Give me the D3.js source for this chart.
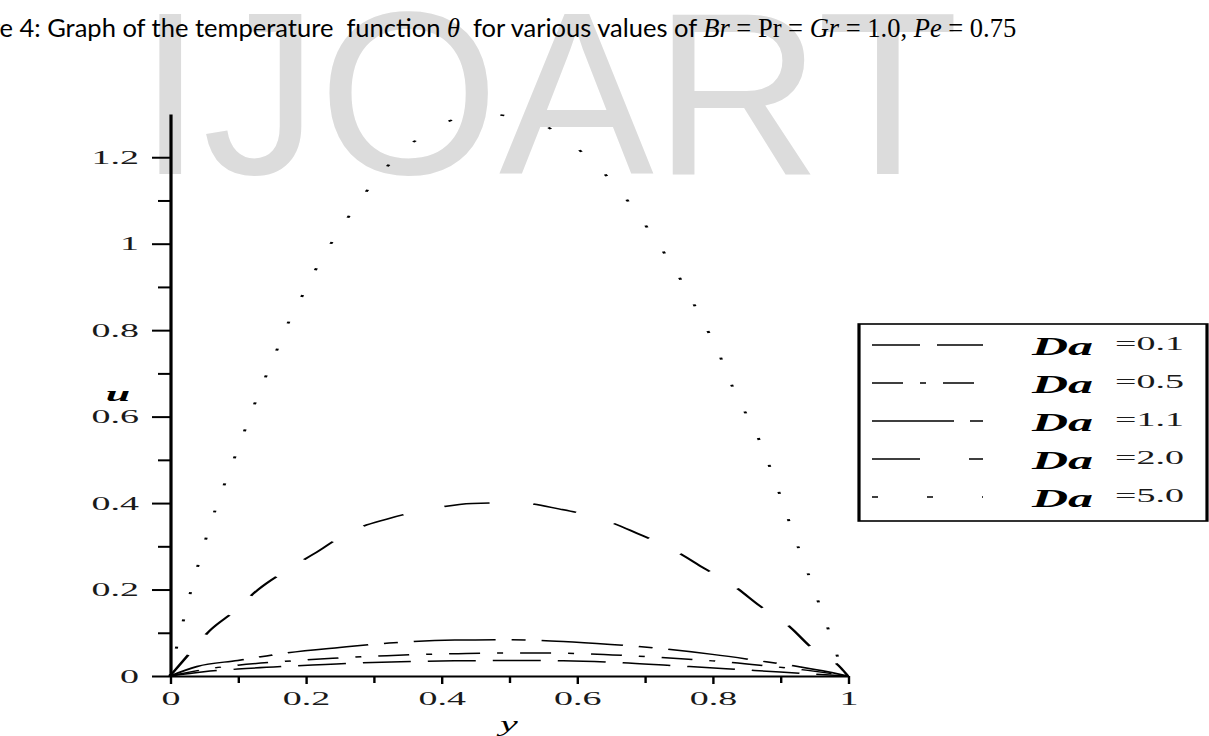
<!DOCTYPE html>
<html>
<head>
<meta charset="utf-8">
<script src="https://cdn.jsdelivr.net/npm/d3@7/dist/d3.min.js"></script>
<style>
body { margin: 0; background: #fff; }
svg { display: block; }
</style>
</head>
<body>
<svg id="chart" width="1209" height="736"></svg>
<script>
// values: position y (0..1) and velocity u
var da01_y = [0, 0.05, 0.1, 0.18, 0.26, 0.34, 0.42, 0.5, 0.58, 0.66, 0.74, 0.82, 0.9, 1]
var da01_u = [0, 0.010, 0.016, 0.023, 0.029, 0.033, 0.035, 0.036, 0.035, 0.031, 0.024, 0.017, 0.009, 0]

var da05_y = [0, 0.05, 0.1, 0.17, 0.24, 0.32, 0.4, 0.48, 0.56, 0.64, 0.72, 0.8, 0.87, 0.93, 1]
var da05_u = [0, 0.015, 0.025, 0.034, 0.041, 0.047, 0.051, 0.053, 0.053, 0.050, 0.043, 0.035, 0.025, 0.015, 0]

var da11_y = [0, 0.04, 0.1, 0.17, 0.25, 0.33, 0.42, 0.5, 0.58, 0.65, 0.72, 0.8, 0.87, 0.93, 0.97, 1]
var da11_u = [0, 0.022, 0.036, 0.053, 0.066, 0.077, 0.083, 0.084, 0.080, 0.073, 0.064, 0.050, 0.035, 0.021, 0.010, 0]

var da20_y = [0, 0.027, 0.06, 0.095, 0.13, 0.17, 0.22, 0.26, 0.32, 0.38, 0.446, 0.512, 0.575, 0.637, 0.689, 0.74, 0.789, 0.832, 0.871, 0.912, 0.946, 0.99, 1]
var da20_u = [0, 0.049, 0.107, 0.15, 0.2, 0.243, 0.29, 0.33, 0.363, 0.385, 0.399, 0.401, 0.386, 0.363, 0.33, 0.294, 0.248, 0.208, 0.161, 0.117, 0.066, 0.018, 0]

var da50_y = [0, 0.010, 0.020, 0.030, 0.041, 0.053, 0.066, 0.080, 0.095, 0.110, 0.125, 0.140, 0.156, 0.173, 0.192, 0.212, 0.235, 0.259, 0.285, 0.316, 0.353, 0.397, 0.467, 0.544, 0.593, 0.634, 0.665, 0.694, 0.720, 0.744, 0.766, 0.786, 0.806, 0.822, 0.839, 0.861, 0.877, 0.892, 0.906, 0.920, 0.934, 0.949, 0.963, 0.977, 0.990, 1]
var da50_u = [0, 0.068, 0.130, 0.192, 0.254, 0.318, 0.381, 0.442, 0.504, 0.567, 0.630, 0.688, 0.748, 0.812, 0.870, 0.932, 0.994, 1.052, 1.111, 1.171, 1.227, 1.274, 1.299, 1.279, 1.230, 1.173, 1.119, 1.059, 1.000, 0.941, 0.881, 0.819, 0.760, 0.697, 0.637, 0.574, 0.515, 0.452, 0.390, 0.326, 0.267, 0.204, 0.142, 0.082, 0.022, 0]

var daLabels = ["=0.1", "=0.5", "=1.1", "=2.0", "=5.0"]

var xTicks = [0, 0.2, 0.4, 0.6, 0.8, 1]
var xTickLabels = ["0", "0.2", "0.4", "0.6", "0.8", "1"]
var xMinor = [0.1, 0.3, 0.5, 0.7, 0.9]
var yTicks = [0, 0.2, 0.4, 0.6, 0.8, 1, 1.2]
var yTickLabels = ["0", "0.2", "0.4", "0.6", "0.8", "1", "1.2"]
var yMinor = [0.1, 0.3, 0.5, 0.7, 0.9, 1.1]

// the pasted figure is stretched sideways in the page
var S = 2

var svg = d3.select("#chart")

// watermark behind everything
svg.append("text")
	.attr("x", 138)
	.attr("y", 174)
	.style("font-family", "'Liberation Sans', Arial, sans-serif")
	.style("font-size", "232px")
	.style("fill", "#dcdcdc")
	.text("IJOART")

// caption, its first letters fall off the left edge
var sans = "Lato, sans-serif"
var serif = "'Liberation Serif', 'Times New Roman', serif"
var title = svg.append("text")
	.attr("y", 37)
	.style("font-family", sans)
	.style("font-size", "25.5px")
	.style("fill", "#000")
	.style("white-space", "pre")

// [text, font, style]
var parts = [
	["Figure 4: Graph of the temperature  function ", null, null],
	["\u03b8", serif, "italic"],
	["  for various values of ", null, null],
	["Br", serif, "italic"],
	[" = Pr = ", serif, null],
	["Gr", serif, "italic"],
	[" = 1.0, ", serif, null],
	["Pe", serif, "italic"],
	[" = 0.75", serif, null]
]
parts.forEach(function(p) {
	var t = title.append("tspan").text(p[0])
	if (p[1]) t.style("font-family", p[1]).style("font-size", "26.5px")
	if (p[2]) t.style("font-style", p[2])
})
var probe = svg.append("text")
	.style("font-family", sans)
	.style("font-size", "25.5px")
	.text("Figur")
var cut = probe.node().getComputedTextLength()
probe.remove()
title.attr("x", -cut)

var g = svg.append("g").attr("transform", "scale(" + S + ",1)")

var x = d3.scaleLinear().domain([0, 1]).range([170 / S, 848 / S])
var y = d3.scaleLinear().domain([0, 1.3]).range([676, 114])

var tickFont = function(sel) {
	sel.selectAll("text")
		.style("font-family", serif)
		.style("font-size", "19px")
		.style("fill", "#1a1a1a")
}

// y axis
var yAxis = g.append("g")
	.attr("transform", "translate(" + x(0) + ",0)")
	.call(d3.axisLeft(y).tickValues(yTicks).tickSize(9).tickSizeOuter(0).tickPadding(6.5)
		.tickFormat(function(d, i) { return yTickLabels[i] }))
yAxis.select(".domain").attr("stroke", "#000").attr("stroke-width", 1.6)
yAxis.selectAll(".tick line").attr("stroke", "#000").attr("stroke-width", 2)
yAxis.call(tickFont)

var yAxisMinor = g.append("g")
	.attr("transform", "translate(" + x(0) + ",0)")
	.call(d3.axisLeft(y).tickValues(yMinor).tickSize(6).tickSizeOuter(0).tickFormat(""))
yAxisMinor.select(".domain").remove()
yAxisMinor.selectAll(".tick line").attr("stroke", "#000").attr("stroke-width", 2)

// x axis
var xAxis = g.append("g")
	.attr("transform", "translate(0," + y(0) + ")")
	.call(d3.axisBottom(x).tickValues(xTicks).tickSize(8).tickSizeOuter(0)
		.tickFormat(function(d, i) { return xTickLabels[i] }))
xAxis.select(".domain").attr("stroke", "#000").attr("stroke-width", 2)
xAxis.selectAll(".tick line").attr("stroke", "#000").attr("stroke-width", 1.2)
xAxis.selectAll(".tick text").attr("y", 29).attr("dy", null)
xAxis.call(tickFont)

var xAxisMinor = g.append("g")
	.attr("transform", "translate(0," + y(0) + ")")
	.call(d3.axisBottom(x).tickValues(xMinor).tickSize(7).tickSizeOuter(0).tickFormat(""))
xAxisMinor.select(".domain").remove()
xAxisMinor.selectAll(".tick line").attr("stroke", "#000").attr("stroke-width", 1.2)

// axis titles
g.append("text")
	.attr("x", 59)
	.attr("y", 401)
	.attr("text-anchor", "middle")
	.style("font-family", serif)
	.style("font-size", "22px")
	.style("font-weight", "bold")
	.style("font-style", "italic")
	.text("u")

g.append("text")
	.attr("x", (x(0) + x(1)) / 2)
	.attr("y", 731)
	.attr("text-anchor", "middle")
	.style("font-family", serif)
	.style("font-size", "20px")
	.style("font-style", "italic")
	.text("y")

// curves
var series = [
	{ ys: da01_y, us: da01_u, dash: "24,8.5", legendDash: "24,8.5" },
	{ ys: da05_y, us: da05_u, dash: "15.5,8.5,3,8.5", legendDash: "15.5,8.5,3,8.5" },
	{ ys: da11_y, us: da11_u, dash: "41,8,7,8", legendDash: "41,8,7,8" },
	{ ys: da20_y, us: da20_u, dash: "23,22", legendDash: "24,24.5,7,24.5" },
	{ ys: da50_y, us: da50_u, dash: "2,25.5", legendDash: "3,24.5" }
]

var line = d3.line()
	.x(function(d) { return x(d[0]) })
	.y(function(d) { return y(d[1]) })
	.curve(d3.curveMonotoneX)

g.selectAll(".curve")
	.data(series)
	.enter()
	.append("path")
	.attr("class", "curve")
	.attr("d", function(s) { return line(d3.zip(s.ys, s.us)) })
	.attr("fill", "none")
	.attr("stroke", "#000")
	.attr("stroke-width", 1.5)
	.attr("stroke-dasharray", function(s) { return s.dash })

// legend
var legend = g.append("g")
legend.append("rect")
	.attr("x", 859 / S)
	.attr("y", 324)
	.attr("width", 348 / S)
	.attr("height", 197)
	.attr("fill", "#fff")
	.attr("stroke", "#000")
	.attr("stroke-width", 1.6)

var rowY = d3.scaleLinear().domain([0, 4]).range([345, 497])

var rows = legend.selectAll(".row")
	.data(series)
	.enter()
	.append("g")
	.attr("class", "row")
	.attr("transform", function(d, i) { return "translate(0," + rowY(i) + ")" })

rows.append("line")
	.attr("x1", 872 / S)
	.attr("x2", 983 / S)
	.attr("stroke", "#000")
	.attr("stroke-width", 1.5)
	.attr("stroke-dasharray", function(d) { return d.legendDash })

rows.append("text")
	.attr("x", 1032 / S)
	.attr("y", 10)
	.style("font-family", serif)
	.style("font-size", "25px")
	.style("font-weight", "bold")
	.style("font-style", "italic")
	.text("Da")

rows.append("text")
	.attr("x", 1115 / S)
	.attr("y", 5)
	.style("font-family", serif)
	.style("font-size", "19px")
	.style("fill", "#1a1a1a")
	.text(function(d, i) { return daLabels[i] })
</script>
</body>
</html>
